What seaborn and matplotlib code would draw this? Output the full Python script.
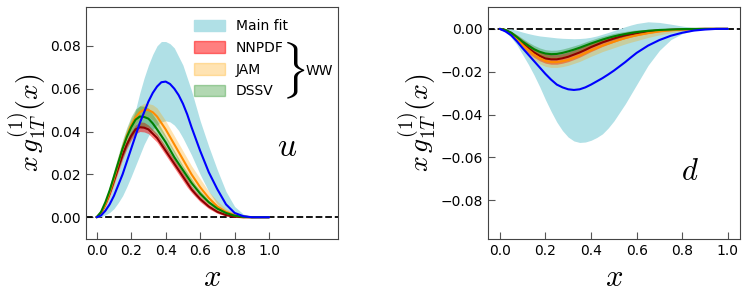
import numpy as np
import matplotlib
matplotlib.use("Agg")
import matplotlib.pyplot as plt
import seaborn as sns
from matplotlib.patches import Patch

x = [0.0, 0.025, 0.05, 0.075, 0.1, 0.125, 0.15, 0.175, 0.2, 0.225, 0.25, 0.275,
     0.3, 0.325, 0.35, 0.375, 0.4, 0.425, 0.45, 0.475, 0.5, 0.525, 0.55, 0.575, 0.6,
     0.65, 0.7, 0.75, 0.8, 0.85, 0.9, 0.95, 1.0]

# ---- u quark ----
main_u = [0, 0.0008, 0.003, 0.006, 0.010, 0.015, 0.020, 0.026, 0.032, 0.038, 0.044, 0.049,
          0.054, 0.058, 0.061, 0.063, 0.0633, 0.0622, 0.060, 0.057, 0.053, 0.048, 0.042, 0.0365, 0.031,
          0.021, 0.013, 0.006, 0.002, 0.0005, 0, 0, 0]
main_u_lo = [0, 0.0003, 0.001, 0.0022, 0.004, 0.0068, 0.010, 0.0143, 0.019, 0.024, 0.029, 0.034,
             0.038, 0.041, 0.043, 0.0445, 0.045, 0.0445, 0.043, 0.0405, 0.037, 0.033, 0.029, 0.0245, 0.020,
             0.012, 0.006, 0.0025, 0.0007, 0.0001, 0, 0, 0]
main_u_hi = [0, 0.0015, 0.005, 0.0095, 0.015, 0.021, 0.028, 0.035, 0.043, 0.050, 0.058, 0.065,
             0.071, 0.076, 0.080, 0.082, 0.082, 0.081, 0.079, 0.075, 0.071, 0.065, 0.059, 0.052, 0.045,
             0.033, 0.022, 0.012, 0.005, 0.0015, 0.0003, 0, 0]

nnpdf_u = [0, 0.002, 0.006, 0.011, 0.017, 0.023, 0.029, 0.034, 0.038, 0.041, 0.042, 0.0418,
           0.041, 0.039, 0.037, 0.034, 0.031, 0.028, 0.025, 0.022, 0.019, 0.016, 0.013, 0.0107, 0.0085,
           0.005, 0.0025, 0.001, 0.0003, 0, 0, 0, 0]
nnpdf_u_lo = [0, 0.0015, 0.005, 0.0095, 0.015, 0.021, 0.027, 0.032, 0.036, 0.039, 0.040, 0.0398,
              0.039, 0.037, 0.035, 0.032, 0.029, 0.026, 0.023, 0.020, 0.017, 0.014, 0.0115, 0.0093, 0.0072,
              0.004, 0.0018, 0.0006, 0.0001, 0, 0, 0, 0]
nnpdf_u_hi = [0, 0.0025, 0.007, 0.0125, 0.019, 0.025, 0.031, 0.036, 0.040, 0.043, 0.0445, 0.0443,
              0.043, 0.041, 0.039, 0.036, 0.033, 0.030, 0.027, 0.024, 0.021, 0.0178, 0.0145, 0.012, 0.0098,
              0.006, 0.0032, 0.0014, 0.0005, 0.0001, 0, 0, 0]

jam_u = [0, 0.002, 0.006, 0.0115, 0.018, 0.025, 0.032, 0.038, 0.043, 0.0465, 0.049, 0.0502,
         0.050, 0.049, 0.047, 0.044, 0.041, 0.0375, 0.034, 0.0305, 0.027, 0.0235, 0.020, 0.017, 0.014,
         0.009, 0.005, 0.0025, 0.001, 0.0003, 0, 0, 0]
jam_u_lo = [0, 0.0015, 0.005, 0.010, 0.016, 0.0225, 0.029, 0.035, 0.040, 0.0435, 0.046, 0.047,
            0.047, 0.0455, 0.043, 0.040, 0.037, 0.0335, 0.030, 0.0265, 0.023, 0.0195, 0.016, 0.013, 0.010,
            0.006, 0.003, 0.001, 0.0, -0.0005, -0.0003, 0, 0]
jam_u_hi = [0, 0.0025, 0.007, 0.013, 0.020, 0.0275, 0.035, 0.041, 0.046, 0.0495, 0.052, 0.0532,
            0.053, 0.0525, 0.051, 0.048, 0.045, 0.0415, 0.038, 0.0345, 0.031, 0.0275, 0.024, 0.021, 0.018,
            0.012, 0.0075, 0.004, 0.002, 0.0008, 0.0002, 0, 0]

dssv_u = [0, 0.0025, 0.007, 0.0125, 0.019, 0.0255, 0.032, 0.0375, 0.042, 0.0455, 0.047, 0.0468,
          0.046, 0.0438, 0.041, 0.038, 0.035, 0.0315, 0.028, 0.025, 0.022, 0.019, 0.016, 0.0135, 0.011,
          0.007, 0.004, 0.002, 0.0007, 0.0002, 0, 0, 0]
dssv_u_lo = [0, 0.002, 0.006, 0.0105, 0.016, 0.022, 0.028, 0.033, 0.037, 0.040, 0.042, 0.0422,
             0.042, 0.040, 0.038, 0.035, 0.032, 0.029, 0.026, 0.023, 0.020, 0.017, 0.014, 0.0117, 0.0095,
             0.006, 0.003, 0.0013, 0.0003, 0, 0, 0, 0]
dssv_u_hi = [0, 0.003, 0.008, 0.0145, 0.022, 0.029, 0.036, 0.042, 0.047, 0.0505, 0.052, 0.0518,
             0.051, 0.048, 0.045, 0.0415, 0.038, 0.0345, 0.031, 0.0275, 0.024, 0.021, 0.018, 0.015, 0.0125,
             0.008, 0.005, 0.0027, 0.0012, 0.0004, 0.0001, 0, 0]

# ---- d quark ----
main_d = [0, -0.0012, -0.003, -0.0058, -0.009, -0.012, -0.015, -0.018, -0.021, -0.0237, -0.026, -0.0273,
          -0.0282, -0.0285, -0.0282, -0.0273, -0.026, -0.0245, -0.023, -0.0213, -0.0195, -0.0175, -0.0155, -0.0133, -0.0112,
          -0.0078, -0.0052, -0.0032, -0.0018, -0.0008, -0.0003, 0, 0]
main_d_lo = [0, -0.0015, -0.004, -0.0075, -0.012, -0.0165, -0.0215, -0.027, -0.033, -0.0385, -0.0435, -0.0475,
             -0.0505, -0.0523, -0.053, -0.0528, -0.052, -0.0507, -0.049, -0.0463, -0.043, -0.039, -0.035, -0.0305, -0.026,
             -0.017, -0.010, -0.005, -0.0022, -0.0008, -0.0002, 0, 0]
main_d_hi = [0, 0, 0, -0.0007, -0.0015, -0.0022, -0.0028, -0.0033, -0.0036, -0.0039, -0.0042, -0.0044,
             -0.0045, -0.0046, -0.0045, -0.0043, -0.0039, -0.0033, -0.0025, -0.0017, -0.0008, 0.0001, 0.001, 0.0018, 0.0025,
             0.0033, 0.003, 0.0022, 0.0013, 0.0006, 0.0002, 0, 0]

nnpdf_d = [0, -0.0006, -0.002, -0.0043, -0.007, -0.009, -0.011, -0.0126, -0.0138, -0.0142, -0.0142, -0.0137,
           -0.013, -0.012, -0.011, -0.0098, -0.0085, -0.0074, -0.0063, -0.0054, -0.0045, -0.0037, -0.003, -0.0025, -0.002,
           -0.0012, -0.0007, -0.0004, -0.0002, -0.0001, 0, 0, 0]
nnpdf_d_lo = [0, -0.0009, -0.0028, -0.0058, -0.009, -0.0113, -0.0133, -0.0149, -0.016, -0.0165, -0.0165, -0.016,
              -0.0153, -0.0143, -0.0132, -0.0119, -0.0106, -0.0094, -0.0082, -0.0072, -0.0062, -0.0053, -0.0045, -0.0038, -0.0032,
              -0.0021, -0.0013, -0.0008, -0.0004, -0.0002, 0, 0, 0]
nnpdf_d_hi = [0, -0.0003, -0.0012, -0.003, -0.005, -0.0069, -0.0088, -0.0104, -0.0115, -0.012, -0.012, -0.0115,
              -0.0108, -0.0098, -0.0088, -0.0076, -0.0064, -0.0054, -0.0045, -0.0037, -0.003, -0.0023, -0.0017, -0.0013, -0.0009,
              -0.0004, -0.0002, -0.0001, 0, 0, 0, 0, 0]

jam_d = [0, -0.0006, -0.002, -0.0045, -0.0075, -0.0098, -0.012, -0.0137, -0.015, -0.0155, -0.0155, -0.0151,
         -0.0145, -0.0135, -0.0125, -0.0112, -0.010, -0.0089, -0.0078, -0.0069, -0.006, -0.0051, -0.0043, -0.0036, -0.003,
         -0.002, -0.0012, -0.0007, -0.0003, -0.0001, 0, 0, 0]
jam_d_lo = [0, -0.0009, -0.0028, -0.006, -0.0095, -0.012, -0.0145, -0.0163, -0.0175, -0.018, -0.018, -0.0176,
            -0.017, -0.0161, -0.0152, -0.014, -0.0128, -0.0117, -0.0106, -0.0097, -0.0088, -0.0079, -0.007, -0.0062, -0.0055,
            -0.004, -0.0028, -0.0018, -0.001, -0.0005, -0.0002, 0, 0]
jam_d_hi = [0, -0.0003, -0.0012, -0.003, -0.0055, -0.0075, -0.0095, -0.0112, -0.0125, -0.013, -0.013, -0.0126,
            -0.012, -0.011, -0.0098, -0.0085, -0.0072, -0.0061, -0.005, -0.0041, -0.0032, -0.0025, -0.0018, -0.0013, -0.0008,
            -0.0002, 0.0001, 0.0001, 0.0001, 0, 0, 0, 0]

dssv_d = [0, -0.0005, -0.0018, -0.0038, -0.006, -0.0078, -0.0095, -0.0107, -0.0115, -0.0118, -0.0117, -0.0112,
          -0.0105, -0.0097, -0.0088, -0.0078, -0.0068, -0.0059, -0.005, -0.0042, -0.0035, -0.0029, -0.0024, -0.0019, -0.0015,
          -0.0009, -0.0005, -0.0003, -0.0001, 0, 0, 0, 0]
dssv_d_lo = [0, -0.0008, -0.0025, -0.005, -0.0075, -0.0095, -0.0113, -0.0125, -0.0133, -0.0136, -0.0135, -0.013,
             -0.0123, -0.0115, -0.0105, -0.0095, -0.0084, -0.0074, -0.0065, -0.0057, -0.0049, -0.0042, -0.0036, -0.003, -0.0025,
             -0.0016, -0.001, -0.0006, -0.0003, -0.0001, 0, 0, 0]
dssv_d_hi = [0, -0.0003, -0.0011, -0.0027, -0.0045, -0.0062, -0.0077, -0.0089, -0.0097, -0.01, -0.0099, -0.0094,
             -0.0087, -0.0079, -0.0071, -0.0061, -0.0052, -0.0043, -0.0035, -0.0028, -0.0021, -0.0016, -0.0012, -0.0008, -0.0005,
             -0.0002, 0, 0, 0, 0, 0, 0, 0]

sns.set_style("ticks")
plt.rcParams["font.family"] = ["DejaVu Sans"]
plt.rcParams["mathtext.fontset"] = "cm"
plt.rcParams["text.color"] = "black"
plt.rcParams["xtick.labelcolor"] = "black"
plt.rcParams["ytick.labelcolor"] = "black"
plt.rcParams["axes.labelcolor"] = "black"

fig = plt.figure(figsize=(7.48, 2.96), dpi=100)
ax1 = fig.add_axes([0.115, 0.193, 0.337, 0.784])
ax2 = fig.add_axes([0.652, 0.193, 0.337, 0.784])


def draw(ax, main, main_lo, main_hi, nn, nn_lo, nn_hi, jam, jam_lo, jam_hi, ds, ds_lo, ds_hi):
    ax.axhline(0, color="black", ls="--", lw=1.3, zorder=1)
    ax.fill_between(x, main_lo, main_hi, color="powderblue", lw=0, zorder=2)
    ax.fill_between(x, nn_lo, nn_hi, color="red", alpha=0.5, lw=0, zorder=3)
    ax.fill_between(x, jam_lo, jam_hi, color="orange", alpha=0.3, lw=0, zorder=3)
    ax.fill_between(x, ds_lo, ds_hi, color="green", alpha=0.3, lw=0, zorder=3)
    sns.lineplot(x=x, y=nn, ax=ax, color="darkred", lw=1.5, zorder=4)
    sns.lineplot(x=x, y=jam, ax=ax, color="darkorange", lw=1.5, zorder=4)
    sns.lineplot(x=x, y=ds, ax=ax, color="green", lw=1.5, zorder=4)
    sns.lineplot(x=x, y=main, ax=ax, color="blue", lw=1.5, zorder=5)
    ax.set_xticks([0.0, 0.2, 0.4, 0.6, 0.8, 1.0])
    ax.tick_params(direction="in", length=5, labelsize=10, color="#555555")
    for s in ax.spines.values():
        s.set_color("#444444")
    ax.set_xlabel("$x$", fontsize=22)
    ax.set_ylabel(r"$x\,g_{1T}^{(1)}(x)$", fontsize=20, labelpad=2)


draw(ax1, main_u, main_u_lo, main_u_hi, nnpdf_u, nnpdf_u_lo, nnpdf_u_hi,
     jam_u, jam_u_lo, jam_u_hi, dssv_u, dssv_u_lo, dssv_u_hi)
draw(ax2, main_d, main_d_lo, main_d_hi, nnpdf_d, nnpdf_d_lo, nnpdf_d_hi,
     jam_d, jam_d_lo, jam_d_hi, dssv_d, dssv_d_lo, dssv_d_hi)

ax1.set_xlim(-0.062, 1.40)
ax1.set_ylim(-0.0101, 0.0982)
ax1.set_yticks([0.0, 0.02, 0.04, 0.06, 0.08])
ax1.set_yticklabels(["0.00", "0.02", "0.04", "0.06", "0.08"])
ax2.set_xlim(-0.053, 1.052)
ax2.set_ylim(-0.098, 0.0103)
ax2.set_yticks([0.0, -0.02, -0.04, -0.06, -0.08])
ax2.set_yticklabels(["0.00", "\u22120.02", "\u22120.04", "\u22120.06", "\u22120.08"])

ax1.text(0.796, 0.40, "$u$", transform=ax1.transAxes, fontsize=24, ha="center", va="center")
ax2.text(0.804, 0.29, "$d$", transform=ax2.transAxes, fontsize=22, ha="center", va="center")

handles = [Patch(color="powderblue"),
           Patch(facecolor="red", alpha=0.5, edgecolor="red"),
           Patch(facecolor="orange", alpha=0.3, edgecolor="orange"),
           Patch(facecolor="green", alpha=0.3, edgecolor="green")]
ax1.legend(handles, ["Main fit", "NNPDF", "JAM", "DSSV"], loc="upper right",
           bbox_to_anchor=(0.85, 1.0), frameon=False, fontsize=10,
           handlelength=2.2, handleheight=0.9, labelspacing=0.55)
ax1.text(0.822, 0.724, r"$\}$", transform=ax1.transAxes, fontsize=34,
         ha="center", va="center")
ax1.text(0.872, 0.724, "WW", transform=ax1.transAxes, fontsize=10,
         ha="left", va="center")

fig.savefig("out.png", dpi=100)
